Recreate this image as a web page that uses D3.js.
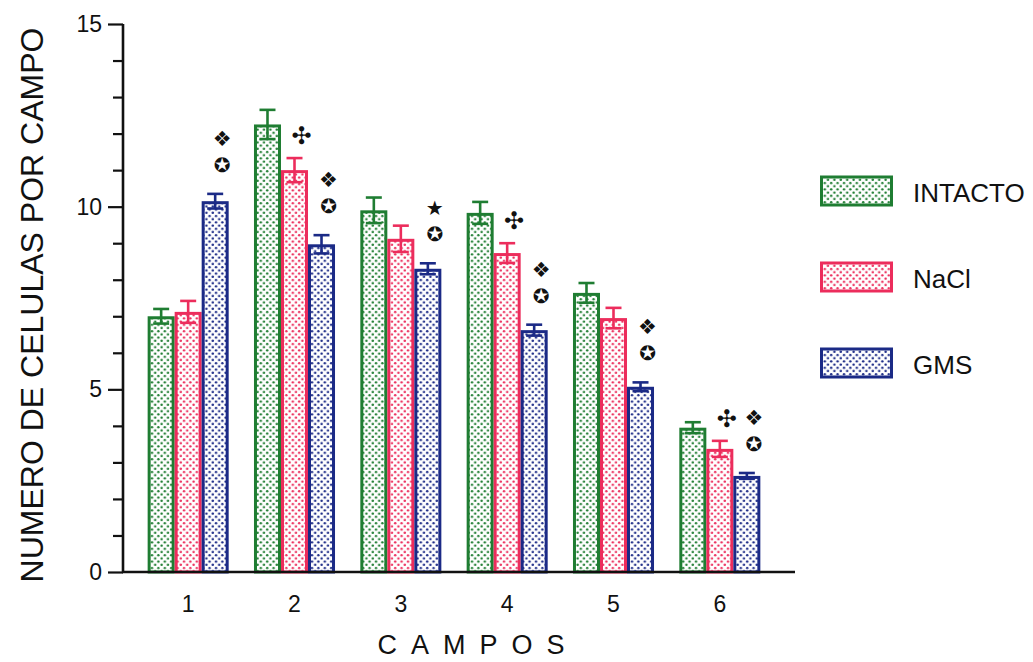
<!DOCTYPE html>
<html>
<head>
<meta charset="utf-8">
<script src="https://cdn.jsdelivr.net/npm/d3@7"></script>
<style>
  html, body { margin: 0; padding: 0; background: #fff; }
  svg { display: block; font-family: "Liberation Sans", Arial, sans-serif; }
</style>
</head>
<body>
<svg id="chart" width="1033" height="662"></svg>
<script>
// Fields (campos) along the x axis
const campos = ["1", "2", "3", "4", "5", "6"];
// Treatment groups
const series = ["INTACTO", "NaCl", "GMS"];
const seriesColors = ["#1f7d32", "#ec2d5c", "#1b2a86"];

// Mean cells per field and standard error, one array per group
const intacto    = [7.0, 12.25, 9.9, 9.83, 7.64, 3.95];
const intactoErr = [0.2, 0.4, 0.35, 0.3, 0.27, 0.15];
const nacl       = [7.12, 11.0, 9.12, 8.73, 6.95, 3.37];
const naclErr    = [0.3, 0.33, 0.36, 0.27, 0.28, 0.22];
const gms        = [10.15, 8.97, 8.3, 6.62, 5.07, 2.63];
const gmsErr     = [0.2, 0.25, 0.15, 0.15, 0.12, 0.08];

// Y axis ticks
const yMajorTicks = [0, 5, 10, 15];
const yMinorTicks = [1, 2, 3, 4, 6, 7, 8, 9, 11, 12, 13, 14];

// Significance marks above individual bars (stacked top to bottom)
const markCampo = ["1", "2", "2", "3", "4", "4", "5", "6", "6"];
const markSerie = ["GMS", "NaCl", "GMS", "GMS", "NaCl", "GMS", "GMS", "NaCl", "GMS"];
const markGlyphs = [["❖", "✪"], ["✣"], ["❖", "✪"], ["★", "✪"], ["✣"], ["❖", "✪"], ["❖", "✪"], ["✣"], ["❖", "✪"]];

const yLabel = "NUMERO DE CELULAS POR CAMPO";
const xLabel = "CAMPOS";

const means = [intacto, nacl, gms];
const errs = [intactoErr, naclErr, gmsErr];

const svg = d3.select("#chart");

// Scales
const y = d3.scaleLinear().domain([0, 15]).range([572, 24]);
const x0 = d3.scaleBand().domain(campos).range([135, 773])
  .paddingInner(0.238).paddingOuter(0.119);
const x1 = d3.scaleBand().domain(series).range([0, x0.bandwidth()]);
const color = d3.scaleOrdinal().domain(series).range(seriesColors);

// Dot-screen fill patterns, one per group
const defs = svg.append("defs");
const cell = 6.4;
series.forEach((s, i) => {
  const p = defs.append("pattern")
    .attr("id", "dots" + i)
    .attr("patternUnits", "userSpaceOnUse")
    .attr("width", cell).attr("height", cell);
  p.append("rect").attr("width", cell).attr("height", cell).attr("fill", "#fff");
  p.append("circle").attr("cx", cell / 4).attr("cy", cell / 4).attr("r", 1.25).attr("fill", color(s));
  p.append("circle").attr("cx", cell * 3 / 4).attr("cy", cell * 3 / 4).attr("r", 1.25).attr("fill", color(s));
});

// Flattened bar records
const bars = [];
campos.forEach((c, ci) => {
  series.forEach((s, si) => {
    bars.push({ campo: c, serie: s, si, value: means[si][ci], err: errs[si][ci] });
  });
});

const barStroke = 3;
const gBars = svg.append("g");

gBars.selectAll("rect.bar")
  .data(bars)
  .join("rect")
  .attr("class", "bar")
  .attr("x", d => x0(d.campo) + x1(d.serie) + barStroke / 2)
  .attr("y", d => y(d.value) + barStroke / 2)
  .attr("width", x1.bandwidth() - barStroke)
  .attr("height", d => y(0) - y(d.value) - barStroke / 2)
  .attr("fill", d => `url(#dots${d.si})`)
  .attr("stroke", d => color(d.serie))
  .attr("stroke-width", barStroke);

// Error bars (mean ± SE) with caps
const capHalf = 8;
const gErr = svg.append("g");
const eb = gErr.selectAll("g").data(bars).join("g")
  .attr("stroke", d => color(d.serie))
  .attr("stroke-width", 2.6)
  .attr("fill", "none");
const cx = d => x0(d.campo) + x1(d.serie) + x1.bandwidth() / 2;
eb.append("line")
  .attr("x1", cx).attr("x2", cx)
  .attr("y1", d => y(d.value + d.err)).attr("y2", d => y(d.value - d.err));
eb.append("line")
  .attr("x1", d => cx(d) - capHalf).attr("x2", d => cx(d) + capHalf)
  .attr("y1", d => y(d.value + d.err)).attr("y2", d => y(d.value + d.err));
eb.append("line")
  .attr("x1", d => cx(d) - capHalf).attr("x2", d => cx(d) + capHalf)
  .attr("y1", d => y(d.value - d.err)).attr("y2", d => y(d.value - d.err));

// Significance marks
const glyphSize = { "❖": 21, "✣": 24, "★": 20, "✪": 20 };
const stackStep = 26;
const gMarks = svg.append("g")
  .attr("font-family", "'DejaVu Sans', sans-serif")
  .attr("fill", "#111")
  .attr("text-anchor", "middle")
  .attr("dominant-baseline", "central");
markCampo.forEach((c, k) => {
  const si = series.indexOf(markSerie[k]);
  const ci = campos.indexOf(c);
  const top = y(means[si][ci] + errs[si][ci]);
  const mx = x0(c) + x1(markSerie[k]) + x1.bandwidth() / 2 + 7;
  const glyphs = markGlyphs[k];
  const last = glyphs[glyphs.length - 1];
  const bottomY = top - (last === "✪" ? 29 : 22);
  glyphs.forEach((g, gi) => {
    gMarks.append("text")
      .attr("x", mx)
      .attr("y", bottomY - (glyphs.length - 1 - gi) * stackStep)
      .attr("font-size", glyphSize[g])
      .text(g);
  });
});

// Y axis: major ticks with labels, minor ticks without
const yAxisG = svg.append("g").attr("transform", "translate(123,0)");
yAxisG.call(d3.axisLeft(y).tickValues(yMajorTicks).tickSize(15).tickPadding(6).tickFormat(d3.format("d")))
  .call(g => g.select(".domain").remove())
  .call(g => g.selectAll(".tick line").attr("stroke", "#111").attr("stroke-width", 2.2))
  .call(g => g.selectAll(".tick text").attr("font-size", 23).attr("fill", "#111")
    .attr("font-family", "'Liberation Sans', Arial, sans-serif"));
svg.append("g").attr("transform", "translate(123,0)")
  .call(d3.axisLeft(y).tickValues(yMinorTicks).tickSize(10).tickFormat(""))
  .call(g => g.select(".domain").remove())
  .call(g => g.selectAll(".tick line").attr("stroke", "#111").attr("stroke-width", 2.2));

// Axis lines
svg.append("line").attr("x1", 123).attr("x2", 123).attr("y1", y(15)).attr("y2", y(0) + 1)
  .attr("stroke", "#111").attr("stroke-width", 2.6);
svg.append("line").attr("x1", 122).attr("x2", 795).attr("y1", y(0)).attr("y2", y(0))
  .attr("stroke", "#111").attr("stroke-width", 2.6);

// X axis labels
svg.append("g").attr("transform", `translate(0,${y(0)})`)
  .call(d3.axisBottom(x0).tickSize(0).tickPadding(24))
  .call(g => g.select(".domain").remove())
  .call(g => g.selectAll(".tick text").attr("font-size", 23).attr("fill", "#111")
    .attr("font-family", "'Liberation Sans', Arial, sans-serif"));

// Axis titles
svg.append("text")
  .attr("x", 478).attr("y", 654)
  .attr("text-anchor", "middle")
  .attr("font-size", 27)
  .attr("letter-spacing", 14)
  .attr("fill", "#111")
  .text(xLabel);

svg.append("text")
  .attr("transform", "translate(43,305) rotate(-90)")
  .attr("text-anchor", "middle")
  .attr("font-size", 32)
  .attr("fill", "#111")
  .text(yLabel);

// Legend
const legendY = d3.scalePoint().domain(series).range([191, 363]);
const lg = svg.append("g").selectAll("g").data(series).join("g")
  .attr("transform", d => `translate(820,${legendY(d)})`);
lg.append("rect")
  .attr("x", 1.5).attr("y", -14).attr("width", 70).attr("height", 28)
  .attr("fill", (d, i) => `url(#dots${i})`)
  .attr("stroke", d => color(d)).attr("stroke-width", 3);
lg.append("text")
  .attr("x", 93).attr("y", 2)
  .attr("dominant-baseline", "central")
  .attr("font-size", 26).attr("fill", "#111")
  .text(d => d);
</script>
</body>
</html>
